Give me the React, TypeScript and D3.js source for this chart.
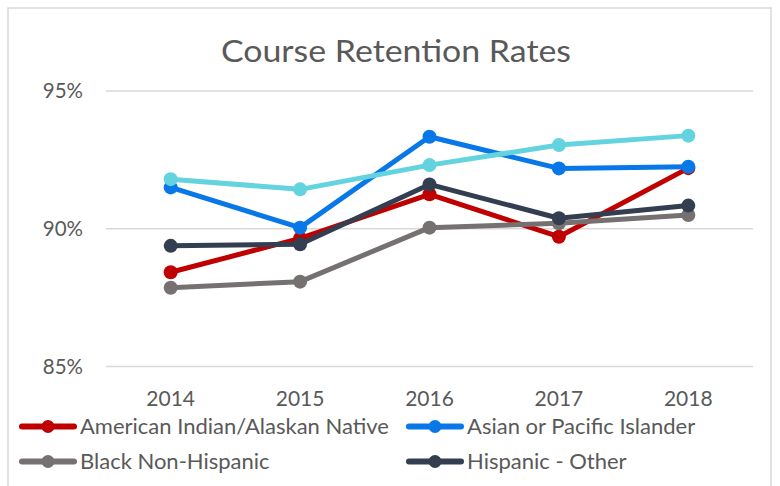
import React from "react";
import * as d3 from "d3";

const years = ["2014", "2015", "2016", "2017", "2018"];
const yTicks = [85, 90, 95];
const seriesNames = [
  "American Indian/Alaskan Native",
  "Asian or Pacific Islander",
  "Black Non-Hispanic",
  "Hispanic - Other",
  "White Non-Hispanic",
];
const americanIndian = [88.42, 89.65, 91.25, 89.71, 92.2];
const asianPacific = [91.5, 90.04, 93.34, 92.19, 92.25];
const blackNonHispanic = [87.86, 88.08, 90.04, 90.2, 90.5];
const hispanicOther = [89.38, 89.44, 91.61, 90.38, 90.84];
const whiteNonHispanic = [91.8, 91.43, 92.31, 93.04, 93.38];
const colors = ["#C00000", "#0878E8", "#767171", "#333F50", "#63D3E0"];
const legendCount = 4;

const W = 780;
const H = 486;
const FONT = "Lato, 'Open Sans', sans-serif";

export default function App() {
  const x = d3.scalePoint<string>().domain(years).range([106, 753]).padding(0.5);
  const y = d3.scaleLinear().domain([85, 95]).range([366.5, 91]);
  const allSeries = [americanIndian, asianPacific, blackNonHispanic, hispanicOther, whiteNonHispanic];
  const line = d3
    .line<number>()
    .x((_, i) => x(years[i]) as number)
    .y((d) => y(d));

  const legendPos = [
    { x: 20, y: 426.5 },
    { x: 407, y: 426.5 },
    { x: 20, y: 461.5 },
    { x: 407, y: 461.5 },
  ];

  return (
    <svg
      width={W}
      height={H}
      style={{ position: "absolute", left: 0, top: 0 }}
      fontFamily={FONT}
    >
      <rect x={0} y={0} width={W} height={H} fill="#fff" />
      <rect x={8} y={8} width={763} height={H + 10} fill="none" stroke="#D9D9D9" strokeWidth={1.5} />
      <text
        x={221}
        y={62}
        fontSize={30}
        fill="#595959"
        textLength={350}
        lengthAdjust="spacingAndGlyphs"
      >
        Course Retention Rates
      </text>
      {yTicks.map((t) => (
        <g key={t}>
          <line x1={106} x2={753} y1={y(t)} y2={y(t)} stroke="#D9D9D9" strokeWidth={1.5} />
          <text x={83} y={y(t) + 7.3} textAnchor="end" fontSize={20.5} fill="#595959">
            {t}%
          </text>
        </g>
      ))}
      {years.map((yr) => (
        <text key={yr} x={x(yr)} y={406} textAnchor="middle" fontSize={21} fill="#595959">
          {yr}
        </text>
      ))}
      {allSeries.map((s, si) => (
        <g key={si}>
          <path d={line(s) || ""} fill="none" stroke={colors[si]} strokeWidth={5} strokeLinejoin="round" />
          {s.map((v, i) => (
            <circle key={i} cx={x(years[i])} cy={y(v)} r={7} fill={colors[si]} />
          ))}
        </g>
      ))}
      {seriesNames.slice(0, legendCount).map((n, i) => (
        <g key={n} transform={`translate(${legendPos[i].x},${legendPos[i].y})`}>
          <line x1={2} x2={54} y1={0} y2={0} stroke={colors[i]} strokeWidth={6} strokeLinecap="round" />
          <circle cx={28} cy={0} r={6.5} fill={colors[i]} />
          <text x={60} y={7.8} fontSize={22} fill="#595959">
            {n}
          </text>
        </g>
      ))}
    </svg>
  );
}
